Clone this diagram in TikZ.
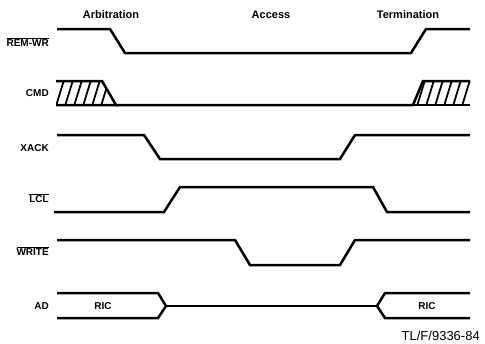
\documentclass[tikz,border=0pt]{standalone}
\usepackage{fontspec}
\setmainfont{Liberation Sans}
\usetikzlibrary{positioning}
\tikzset{every picture/.style={line width=2.5pt}}

\begin{document}
\begin{tikzpicture}[x=1pt, y=-1pt, every node/.style={font=\bfseries\fontsize{10}{12}\selectfont, inner sep=0pt},
    phase/.style={font=\bfseries\fontsize{11}{13}\selectfont},
    signame/.style={anchor=east},
    hatch/.style={line width=1.8pt}]
        \useasboundingbox (0,0) rectangle (485,343);
        % phase headings
        \node[phase] (arb) at (111,15) {Arbitration};
        \node[phase] (acc) at (271,15) {Access};
        \node[phase] (term) at (408,15) {Termination};
        % REM-WR: low during access
        \node[signame] (remwr) at (50,42) {$\overline{\mbox{REM-WR}}$};
        \draw (57,29) -- (110,29) -- (125,53) -- (411,53) -- (426,29) -- (470,29);
        % CMD: hatched (don't care) at both ends
        \node[signame] (cmd) at (50,93) {CMD};
        \draw (56,81) -- (102,81) -- (116,105) -- (56,105);
        \draw (116,105) -- (413,105) -- (423,81) -- (470,81);
        \draw (413,105) -- (470,105);
        \begin{scope}
            \clip (56,81) -- (102,81) -- (116,105) -- (56,105) -- cycle;
            \foreach \k in {0,...,5}
                \draw[hatch] ({56+9*\k},106) -- ({64+9*\k},80);
        \end{scope}
        \begin{scope}
            \clip (413,105) -- (423,81) -- (471,81) -- (471,105) -- cycle;
            \foreach \k in {0,...,5}
                \draw[hatch] ({462-9*\k},106) -- ({470-9*\k},80);
        \end{scope}
        % XACK
        \node[signame] (xack) at (50,148) {XACK};
        \draw (57,135) -- (144,135) -- (160,159) -- (340,159) -- (355,135) -- (470,135);
        % LCL
        \node[signame] (lcl) at (50,198) {$\overline{\mbox{LCL}}$};
        \draw (54,212) -- (164,212) -- (180,187) -- (373,187) -- (387,212) -- (470,212);
        % WRITE
        \node[signame] (write) at (50,251) {$\overline{\mbox{WRITE}}$};
        \draw (57,240) -- (235,240) -- (250,265) -- (340,265) -- (355,240) -- (470,240);
        % AD: address bus, RIC then float
        \node[signame] (ad) at (50,306) {AD};
        \draw (57,293) -- (158,293) -- (166,306) -- (158,318) -- (57,318);
        \draw (166,306) -- (377,306);
        \draw (470,293) -- (385,293) -- (377,306) -- (385,318) -- (470,318);
        \node (ricl) at (103,306) {RIC};
        \node (ricr) at (427,306) {RIC};
        % figure tag
        \node[font=\fontsize{13}{15}\selectfont, anchor=east] (tag) at (481,336) {TL/F/9336-84};
    \end{tikzpicture}
\end{document}
